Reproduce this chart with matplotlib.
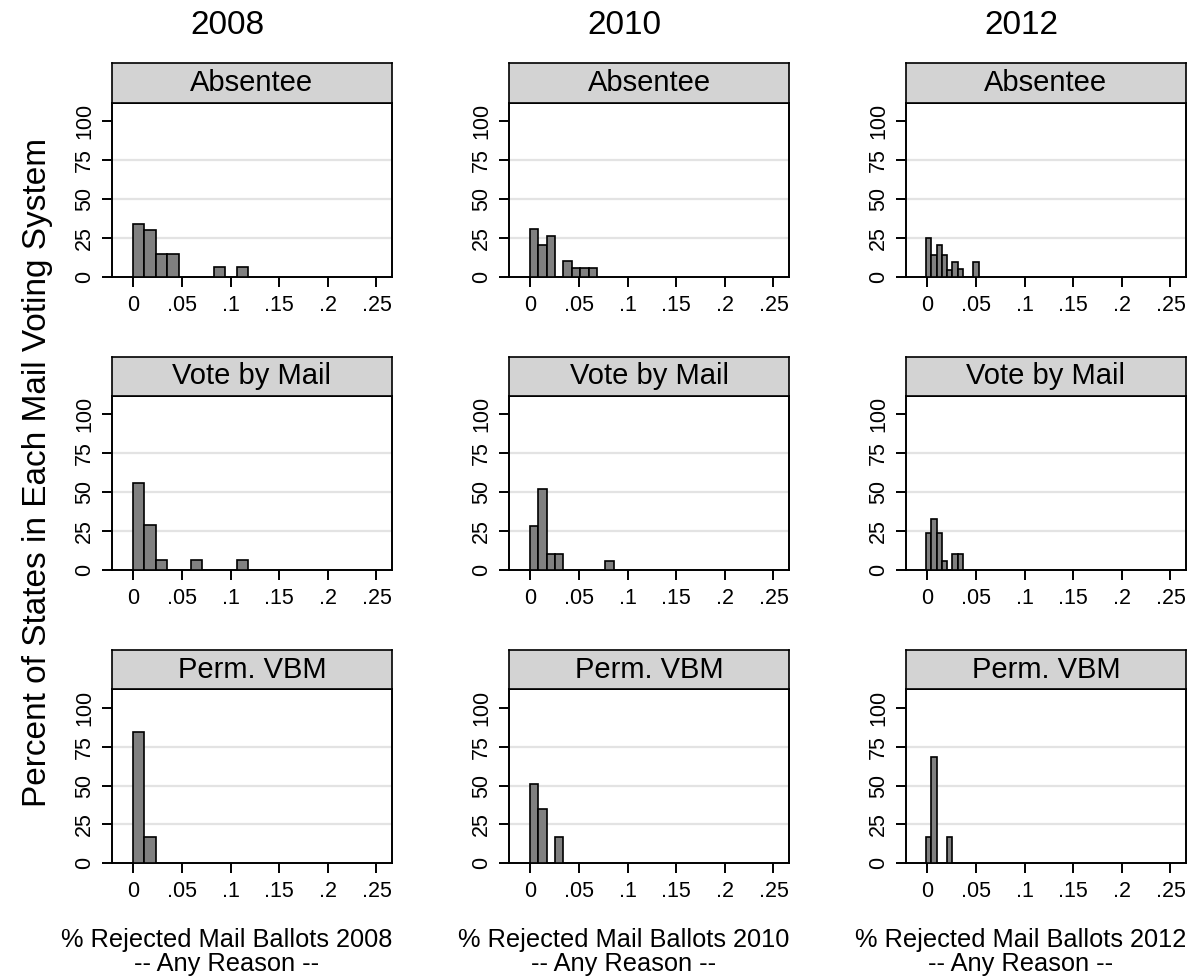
import matplotlib
matplotlib.use("Agg")
import matplotlib.pyplot as plt
import numpy as np

plt.rcParams['font.family'] = ['Liberation Sans', 'DejaVu Sans']

W, H = 1190, 976

years = ['2008', '2010', '2012']
systems = ['Absentee', 'Vote by Mail', 'Perm. VBM']

# histogram bins (first edge, bin width) for each year
bin_start = {'2008': -0.0007, '2010': -0.0007, '2012': -0.0014}
bin_width = {'2008': 0.0119, '2010': 0.00864, '2012': 0.0054}

# percent of states per bin
pct_2008_absentee = [34.1, 29.8, 14.8, 14.8, 0, 0, 0, 5.9, 0, 5.9]
pct_2008_vbm = [55.6, 28.8, 6.4, 0, 0, 6.4, 0, 0, 0, 6.4]
pct_2008_perm = [84.8, 17.0]

pct_2010_absentee = [30.6, 20.3, 26.3, 0, 10.0, 5.3, 5.3, 5.3]
pct_2010_vbm = [28.3, 52.2, 9.8, 9.8, 0, 0, 0, 0, 0, 5.4]
pct_2010_perm = [51.3, 34.8, 0, 17.0]

pct_2012_absentee = [25.0, 13.6, 20.5, 14.1, 4.5, 9.1, 5.0, 0, 0, 9.1]
pct_2012_vbm = [23.5, 32.6, 23.5, 5.4, 0, 10.2, 10.2]
pct_2012_perm = [17.0, 68.5, 0, 0, 17.0]

data = {
    '2008': [pct_2008_absentee, pct_2008_vbm, pct_2008_perm],
    '2010': [pct_2010_absentee, pct_2010_vbm, pct_2010_perm],
    '2012': [pct_2012_absentee, pct_2012_vbm, pct_2012_perm],
}

xticks = [0, 0.05, 0.1, 0.15, 0.2, 0.25]
xticklabels = ['0', '.05', '.1', '.15', '.2', '.25']
yticks = [0, 25, 50, 75, 100]

# layout in pixels
col_left = [112, 509, 906]
col_center = [227, 624, 1021]
ax_w = 280
row_top = [102.5, 395.7, 689.3]
ax_h = 174
strip_h = 39


def px_rect(left, top, w, h):
    return [left / W, 1 - (top + h) / H, w / W, h / H]


fig = plt.figure(figsize=(W / 100, H / 100), dpi=100)

for c, year in enumerate(years):
    for r, system in enumerate(systems):
        ax = fig.add_axes(px_rect(col_left[c], row_top[r], ax_w, ax_h))
        heights = np.array(data[year][r], dtype=float)
        lefts = bin_start[year] + bin_width[year] * np.arange(len(heights))
        keep = heights > 0
        ax.bar(lefts[keep], heights[keep], width=bin_width[year], align='edge',
               color='#808080', edgecolor='black', linewidth=1.2, zorder=3)

        ax.set_xlim(-0.022, 0.266)
        ax.set_ylim(0, 112)
        for g in [25, 50, 75]:
            ax.axhline(g, color='#e3e3e3', linewidth=1.6, zorder=1)

        ax.set_xticks(xticks)
        ax.set_xticklabels(xticklabels, fontsize=15.5)
        ax.set_yticks(yticks)
        ax.set_yticklabels([str(v) for v in yticks], fontsize=15.5, rotation=90, va='center')
        ax.tick_params(axis='both', direction='out', length=7, width=1.4, color='black')
        ax.tick_params(axis='x', pad=6)
        ax.tick_params(axis='y', pad=5)
        for sp in ax.spines.values():
            sp.set_linewidth(1.4)
            sp.set_color('black')

        strip = fig.add_axes(px_rect(col_left[c], row_top[r] - strip_h, ax_w, strip_h))
        strip.set_facecolor('#d3d3d3')
        strip.set_xticks([])
        strip.set_yticks([])
        for sp in strip.spines.values():
            sp.set_linewidth(1.2)
            sp.set_color('black')
        strip.text(0.5, 0.5, system, ha='center', va='center', fontsize=21,
                   transform=strip.transAxes)

    fig.text(col_center[c] / W, 1 - 25 / H, year, ha='center', va='center', fontsize=24)
    fig.text(col_center[c] / W, 1 - 940 / H, '% Rejected Mail Ballots ' + year,
             ha='center', va='center', fontsize=18.3)
    fig.text(col_center[c] / W, 1 - 964 / H, '-- Any Reason --',
             ha='center', va='center', fontsize=18.3)

fig.text(38 / W, 1 - 472 / H, 'Percent of States in Each Mail Voting System',
         ha='center', va='center', rotation=90, fontsize=24)

fig.savefig('out.png', dpi=100, facecolor='white')
